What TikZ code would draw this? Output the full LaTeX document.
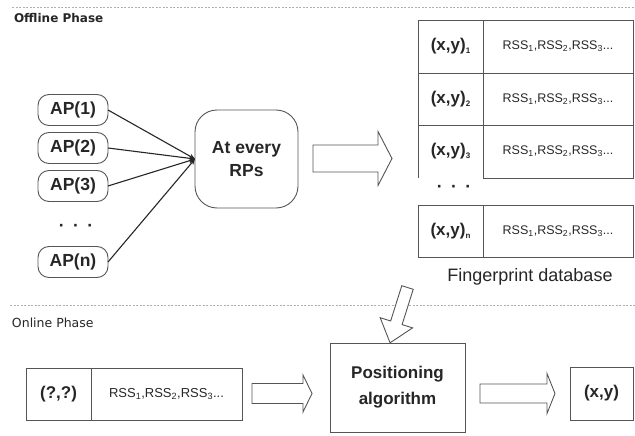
\documentclass[tikz,border=0pt]{standalone}
\usepackage{fontspec}
\setmainfont{Liberation Sans}
\newfontfamily\dvs{DejaVu Sans}
\usetikzlibrary{arrows.meta}
\definecolor{lc}{HTML}{555555}
\definecolor{dc}{HTML}{262626}
\definecolor{sep}{HTML}{B0B0B0}
\newcommand\tsub[1]{\raisebox{-3pt}{\fontsize{8}{9}\selectfont #1}}
\begin{document}
\begin{tikzpicture}[x=1pt,y=-1pt,
  every node/.style={inner sep=0pt, outer sep=0pt, text=dc},
  box/.style={draw=lc, line width=0.9pt},
  apbox/.style={box, rounded corners=11pt, minimum width=70pt, minimum height=31pt, font=\fontsize{17.5}{20}\selectfont\bfseries},
  rpbox/.style={box, rounded corners=22pt, minimum width=103pt, minimum height=98pt, align=center, font=\fontsize{17.5}{23}\selectfont\bfseries},
  cellL/.style={box, minimum width=65pt, font=\fontsize{17}{20}\selectfont\bfseries},
  cellR/.style={box, minimum width=150pt, font=\fontsize{12.5}{14}\selectfont},
  plainbox/.style={box, align=center},
  conn/.style={draw=dc, line width=1.1pt, -{Stealth[length=6pt,width=5pt]}},
  sepline/.style={draw=sep, line width=0.8pt, dash pattern=on 2pt off 1.5pt},
  blockline/.style={draw=lc, line width=0.9pt, fill=white, line join=miter},
  pics/barrow/.style n args={4}{code={
    \path[blockline] (0,-#2) -- ({#1-#4},-#2) -- ({#1-#4},-#3) -- (#1,0) -- ({#1-#4},#3) -- ({#1-#4},#2) -- (0,#2) -- cycle;}},
  dots/.style={font=\fontsize{17.5}{20}\selectfont\bfseries}
]
\useasboundingbox (0,0) rectangle (635,436);

% separators and phase titles
\coordinate (s1a) at (12,7); \coordinate (s1b) at (635,7);
\coordinate (s2a) at (10,305); \coordinate (s2b) at (635,305);
\path[sepline] (s1a) -- (s1b);
\path[sepline] (s2a) -- (s2b);
\node[anchor=west, font=\dvs\fontsize{12}{14}\selectfont\bfseries] (off) at (14,18) {Offline Phase};
\node[anchor=west, font=\dvs\fontsize{12.5}{14}\selectfont] (on) at (12,323) {Online Phase};

% APs
\node[apbox] (ap1) at (73,110) {AP(1)};
\node[apbox] (ap2) at (73,148) {AP(2)};
\node[apbox] (ap3) at (73,186) {AP(3)};
\node[dots] (apd) at (76,228) {·\hspace{8.5pt}·\hspace{8.5pt}·};
\node[apbox] (apn) at (73,262) {AP(n)};

\node[rpbox] (rp) at (246.5,159) {At every\\RPs};
\draw[conn] (ap1.east) -- (rp.west);
\draw[conn] (ap2.east) -- (rp.west);
\draw[conn] (ap3.east) -- (rp.west);
\draw[conn] (apn.east) -- (rp.west);

% big arrow to database
\pic at (313,158.5) {barrow={79}{13.5}{27}{14}};

% fingerprint table
\node[cellL, minimum height=53pt] (l1) at (450.5,46.5) {(x,y)\tsub{1}};
\node[cellR, minimum height=53pt] (r1) at (558,46.5) {RSS\textsubscript{1},RSS\textsubscript{2},RSS\textsubscript{3}...};
\node[cellL, minimum height=52pt] (l2) at (450.5,99) {(x,y)\tsub{2}};
\node[cellR, minimum height=52pt] (r2) at (558,99) {RSS\textsubscript{1},RSS\textsubscript{2},RSS\textsubscript{3}...};
\node[cellL, draw=none, minimum height=53pt] (l3) at (450.5,151.5) {(x,y)\tsub{3}};
\draw[draw=lc, line width=0.9pt] (l3.south west) -- (l3.north west);
\node[cellR, minimum height=53pt] (r3) at (558,151.5) {RSS\textsubscript{1},RSS\textsubscript{2},RSS\textsubscript{3}...};
\node[dots] (tbd) at (454,189) {·\hspace{8.5pt}·\hspace{8.5pt}·};
\node[cellL, minimum height=52pt] (ln) at (450.5,231) {(x,y)\tsub{n}};
\node[cellR, minimum height=52pt] (rn) at (558,231) {RSS\textsubscript{1},RSS\textsubscript{2},RSS\textsubscript{3}...};
\node[font=\fontsize{18}{20}\selectfont] (fdb) at (530,277) {Fingerprint database};

% online phase
\node[cellL, minimum height=52pt] (ql) at (58.5,394) {(?,?)};
\node[box, minimum width=151pt, minimum height=52pt, font=\fontsize{13}{15}\selectfont] (qr) at (166.5,394) {RSS\textsubscript{1},RSS\textsubscript{2},RSS\textsubscript{3}...};
\pic at (252,393.5) {barrow={60}{10}{18.5}{9}};
\node[plainbox, minimum width=135pt, minimum height=89pt, font=\fontsize{17}{26}\selectfont\bfseries] (pa) at (397.5,387.5) {Positioning\\algorithm};
\pic at (480,393.5) {barrow={75}{9.5}{20}{8}};
\node[box, minimum width=63pt, minimum height=53pt, font=\fontsize{17}{20}\selectfont\bfseries] (res) at (601.5,393.5) {(x,y)};

% diagonal arrow from database to algorithm
\pic[rotate=252.5] at (407.5,287.5) {barrow={58}{6}{17}{21}};
\end{tikzpicture}
\end{document}
